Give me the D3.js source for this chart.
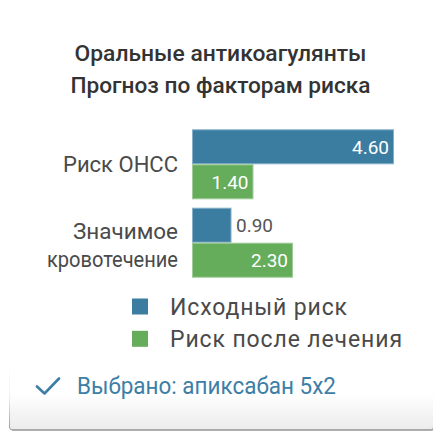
<!DOCTYPE html>
<html><head><meta charset="utf-8">
<script src="https://cdn.jsdelivr.net/npm/d3@7"></script>
<style>
html,body{margin:0;padding:0;background:#fff;}
svg{display:block;font-family:Roboto,"Noto Sans",sans-serif;}
</style></head>
<body>
<svg id="c" width="433" height="432"></svg>
<script>
const titleLines = ["Оральные антикоагулянты", "Прогноз по факторам риска"];
const categories = ["Риск ОНСС", "Значимое кровотечение"];
const categoryLines = [["Риск ОНСС"], ["Значимое", "кровотечение"]];
const seriesNames = ["Исходный риск", "Риск после лечения"];
const baselineRisk = [4.60, 0.90];
const treatedRisk = [1.40, 2.30];
const selectedText = "Выбрано: апиксабан 5x2";
const colors = ["#3b7da1", "#65ac5b"];
const strokeColors = ["#86b0c9", "#9fcb98"];

// measured text widths of the reference (layout only)
const titleW = [292, 300];
const catW = [[115], [105, 131]];
const legW = [177, 232];

const svg = d3.select("#c");
const defs = svg.append("defs");
const fg = defs.append("linearGradient").attr("id","cardFill").attr("x1",0).attr("y1",0).attr("x2",0).attr("y2",1);
fg.append("stop").attr("offset","0%").attr("stop-color","#ffffff");
fg.append("stop").attr("offset","60%").attr("stop-color","#ffffff");
fg.append("stop").attr("offset","100%").attr("stop-color","#ebebeb");
const sg = defs.append("linearGradient").attr("id","cardStroke").attr("x1",0).attr("y1",0).attr("x2",0).attr("y2",1);
sg.append("stop").attr("offset","0%").attr("stop-color","#ffffff").attr("stop-opacity",0);
sg.append("stop").attr("offset","65%").attr("stop-color","#eeeeee").attr("stop-opacity",1);
sg.append("stop").attr("offset","100%").attr("stop-color","#9a9a9a").attr("stop-opacity",1);

svg.append("rect").attr("x",9.5).attr("y",340).attr("width",424).attr("height",90)
  .attr("rx",3).attr("fill","url(#cardFill)").attr("stroke","url(#cardStroke)").attr("stroke-width",1);
svg.append("line").attr("x1",12).attr("x2",433).attr("y1",430).attr("y2",430).attr("stroke","#8f8f8f").attr("stroke-width",1.2);
svg.append("rect").attr("x",0).attr("y",0).attr("width",433).attr("height",365).attr("fill","#fff");

const cx = 220.5;
svg.append("g").selectAll("text").data(titleLines).join("text")
  .attr("x", cx).attr("y",(d,i)=>60.5+i*32.3)
  .attr("text-anchor","middle").attr("font-size",22.5).attr("font-weight",500).attr("fill","#333")
  .attr("textLength",(d,i)=>titleW[i]).attr("lengthAdjust","spacingAndGlyphs")
  .text(d=>d);

const y = d3.scaleBand().domain(categories).range([129.3, 277.7]).paddingInner(0.107).paddingOuter(0);
const ySub = d3.scaleBand().domain([0,1]).range([0, y.bandwidth()]);
const x = d3.scaleLinear().domain([0, 4.6]).range([192, 394]);

const data = categories.map((c,i)=>({cat:c, vals:[baselineRisk[i], treatedRisk[i]]}));

const groups = svg.append("g").selectAll("g").data(data).join("g")
  .attr("transform", d=>`translate(0,${y(d.cat)})`);

groups.selectAll("rect").data(d=>d.vals.map((v,k)=>({v,k}))).join("rect")
  .attr("x", x(0)+0.5).attr("y", d=>ySub(d.k)+0.5)
  .attr("width", d=>x(d.v)-x(0)-1).attr("height", ySub.bandwidth()-1)
  .attr("fill", d=>colors[d.k]).attr("stroke", d=>strokeColors[d.k]).attr("stroke-width",1);

groups.selectAll("text.val").data(d=>d.vals.map((v,k)=>({v,k}))).join("text")
  .attr("class","val")
  .each(function(d){
    const w = x(d.v)-x(0);
    const inside = w > 50;
    d3.select(this)
      .attr("x", inside ? x(d.v)-5 : x(d.v)+4.5)
      .attr("text-anchor", inside ? "end" : "start")
      .attr("fill", inside ? "#fff" : "#555");
  })
  .attr("y", d=>ySub(d.k)+ySub.bandwidth()/2+6.8)
  .attr("font-size",19)
  .attr("textLength",37).attr("lengthAdjust","spacingAndGlyphs")
  .text(d=>d.v.toFixed(2));

const catLbl = svg.append("g").selectAll("text").data(categories).join("text")
  .attr("text-anchor","end").attr("font-size",22.5).attr("fill","#4a4a4a");
catLbl.each(function(c,i){
  const lines = categoryLines[i];
  const center = y(c)+y.bandwidth()/2;
  const lh = 27.7;
  const first = center + 7.8 - (lines.length-1)*lh/2 + (lines.length>1?2.6:0);
  d3.select(this).selectAll("tspan").data(lines).join("tspan")
    .attr("x", 178).attr("y",(d,j)=>first+j*lh)
    .attr("textLength",(d,j)=>catW[i][j]).attr("lengthAdjust","spacingAndGlyphs")
    .text(d=>d);
});

const leg = svg.append("g").selectAll("g").data(seriesNames).join("g")
  .attr("transform",(d,i)=>`translate(132,${298.5+i*32.3})`);
leg.append("rect").attr("width",16).attr("height",16).attr("fill",(d,i)=>colors[i]);
leg.append("text").attr("x",38).attr("y",16.5).attr("font-size",23).attr("fill","#4a4a4a")
  .attr("textLength",(d,i)=>legW[i]).attr("lengthAdjust","spacing").text(d=>d);

svg.append("path").attr("d","M37,386.5 L44.5,393.5 L59,378.5").attr("fill","none")
  .attr("stroke","#3d7ea6").attr("stroke-width",2.6).attr("stroke-linecap","round").attr("stroke-linejoin","round");
svg.append("text").attr("x",77).attr("y",393.5).attr("font-size",23).attr("fill","#3d7ea6")
  .attr("textLength",259).attr("lengthAdjust","spacingAndGlyphs")
  .text(selectedText);
</script>
</body></html>
